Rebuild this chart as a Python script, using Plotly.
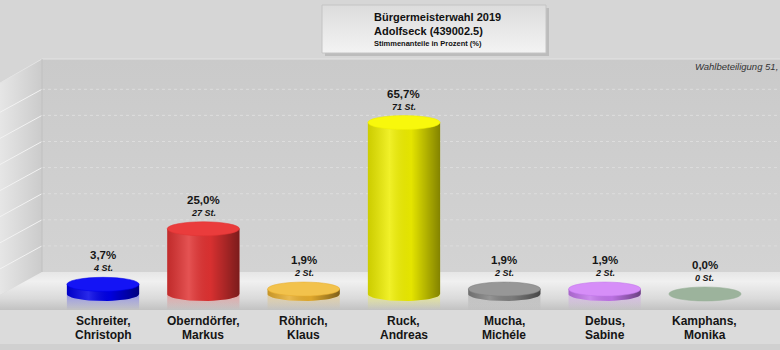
import math
import plotly.graph_objects as go

# ---------------- data ----------------
names_line1 = ["Schreiter,", "Oberndörfer,", "Röhrich,", "Ruck,", "Mucha,", "Debus,", "Kamphans,"]
names_line2 = ["Christoph", "Markus", "Klaus", "Andreas", "Michéle", "Sabine", "Monika"]
percent = [3.7, 25.0, 1.9, 65.7, 1.9, 1.9, 0.0]
votes = [4, 27, 2, 71, 2, 2, 0]
body_colors = ["#0000e6", "#e03232", "#e6ad2e", "#eeee00", "#808080", "#c275ea", "#98b098"]
top_colors = ["#1414f5", "#ea3c3c", "#f2c24c", "#f8f80c", "#979797", "#d68ef8", "#9cb39c"]
grid_values = [10, 20, 30, 40, 50, 60, 70]
title_lines = ["Bürgermeisterwahl 2019", "Adolfseck (439002.5)", "Stimmenanteile in Prozent (%)"]
turnout_text = "Wahlbeteiligung 51,"

# ---------------- geometry (pixels) ----------------
W, H = 780, 350
PX = 2.61            # pixels per percent
FLOOR_Y = 294        # pixel row of value 0 for the bars
CENTER0, STEP = 103, 100.33
HALF = 0.36          # half bar width in category units
ELL = 7              # ellipse half height in px
WALL_L, WALL_T, WALL_B, FRONT = 42, 59, 272, 310
SIDE_DROP = 23

FONT = "Liberation Sans, Arial, sans-serif"

def rgba(hexc, a):
    h = hexc.lstrip("#")
    return "rgba(%d,%d,%d,%.3f)" % (int(h[0:2], 16), int(h[2:4], 16), int(h[4:6], 16), a)

def wall_px(v):
    return WALL_B - v * PX

fig = go.Figure()

def decor(xs, ys, **kw):
    fig.add_trace(go.Scatter(x=xs, y=ys, xaxis="x", yaxis="y", mode="lines",
                             hoverinfo="skip", showlegend=False, **kw))

# back wall
decor([WALL_L, W, W, WALL_L, WALL_L], [WALL_T, WALL_T, WALL_B, WALL_B, WALL_T],
      fill="toself", line=dict(width=0),
      fillgradient=dict(type="vertical", colorscale=[[0, "#d3d3d3"], [1, "#cacaca"]]))
# side wall
decor([0, WALL_L, WALL_L, 0, 0], [WALL_T + SIDE_DROP + 1, WALL_T, WALL_B, WALL_B + SIDE_DROP, WALL_T + SIDE_DROP + 1],
      fill="toself", line=dict(width=0),
      fillgradient=dict(type="horizontal", colorscale=[[0, "#e6e6e6"], [1, "#cbcbcb"]]))
# floor
decor([0, WALL_L, W, W, 0, 0], [WALL_B + SIDE_DROP, WALL_B, WALL_B, FRONT, FRONT, WALL_B + SIDE_DROP],
      fill="toself", line=dict(width=0),
      fillgradient=dict(type="vertical",
                        colorscale=[[0, "#c2c2c2"], [0.3, "#dadada"], [0.75, "#f0f0f0"], [1, "#e6e6e6"]]))
# bottom band
decor([0, W, W, 0, 0], [FRONT, FRONT, 344, 344, FRONT], fill="toself", line=dict(width=0), fillcolor="#dbdbdb")
decor([0, W, W, 0, 0], [344, 344, H, H, 344], fill="toself", line=dict(width=0), fillcolor="#d0d0d0")

# wall grid lines
gx, gy, sx, sy = [], [], [], []
for v in grid_values:
    gx += [WALL_L, W, None]
    gy += [wall_px(v), wall_px(v), None]
    sx += [0, WALL_L, None]
    sy += [wall_px(v) + SIDE_DROP, wall_px(v), None]
decor(gx, gy, line=dict(color="#dddddd", width=1, dash="dot"))
decor(sx, sy, line=dict(color="#f2f2f2", width=1))
decor([0, WALL_L, W], [WALL_T + SIDE_DROP + 1, WALL_T, WALL_T], line=dict(color="#e4e4e4", width=1))
decor([WALL_L, WALL_L], [WALL_T, WALL_B], line=dict(color="#c0c0c0", width=1))

# title box
decor([325, 549, 549, 325, 325], [8, 8, 56, 56, 8], fill="toself", line=dict(width=0), fillcolor="#bcbcbc")
decor([322, 546, 546, 322, 322], [5, 5, 53, 53, 5], fill="toself", line=dict(color="#c4c4c4", width=1),
      fillgradient=dict(type="vertical", colorscale=[[0, "#f3f3f3"], [1, "#dcdcdc"]]))

# ---------------- data marks ----------------
n = len(percent)
idx = list(range(n))
fig.add_trace(go.Bar(x=idx, y=percent, width=2 * HALF, xaxis="x2", yaxis="y2",
                     marker=dict(color=body_colors, line=dict(width=0)),
                     hoverinfo="skip", showlegend=False))

e = ELL / PX
ts = [math.pi * k / 24 for k in range(25)]
for i, (v, c) in enumerate(zip(percent, body_colors)):
    if v <= 0:
        continue
    # reflection on the floor
    r = 16 / PX
    fig.add_trace(go.Scatter(x=[i - HALF, i + HALF, i + HALF, i - HALF, i - HALF], y=[0, 0, -r, -r, 0],
                             xaxis="x2", yaxis="y2", mode="lines", line=dict(width=0), fill="toself",
                             fillgradient=dict(type="vertical", colorscale=[[0, rgba(c, 0.0)], [1, rgba(c, 0.35)]]),
                             hoverinfo="skip", showlegend=False))
    # bottom half ellipse
    bx = [i + HALF * math.cos(t) for t in ts]
    by = [-e * math.sin(t) for t in ts]
    fig.add_trace(go.Scatter(x=bx + [bx[0]], y=by + [by[0]], xaxis="x2", yaxis="y2", mode="lines",
                             line=dict(width=0), fill="toself", fillcolor=c,
                             hoverinfo="skip", showlegend=False))
    # cylinder shading
    sx_ = [i - HALF, i + HALF] + bx + [i - HALF]
    sy_ = [v, v] + by + [v]
    fig.add_trace(go.Scatter(x=sx_, y=sy_, xaxis="x2", yaxis="y2", mode="lines", line=dict(width=0),
                             fill="toself",
                             fillgradient=dict(type="horizontal", colorscale=[
                                 [0, "rgba(0,0,0,0.14)"], [0.3, "rgba(255,255,255,0.16)"],
                                 [0.6, "rgba(0,0,0,0.04)"], [1, "rgba(0,0,0,0.45)"]]),
                             hoverinfo="skip", showlegend=False))

shapes = []
for i, (v, tc, c) in enumerate(zip(percent, top_colors, body_colors)):
    shapes.append(dict(type="circle", xref="x2", yref="y2", x0=i - HALF, x1=i + HALF,
                       ysizemode="pixel", yanchor=v, y0=-ELL, y1=ELL,
                       fillcolor=tc, line=dict(color=rgba(c, 0.9), width=0.6), layer="above"))

annotations = []
for i, (v, n_votes) in enumerate(zip(percent, votes)):
    pct = ("%.1f" % v).replace(".", ",") + "%"
    annotations.append(dict(x=i, y=v, xref="x2", yref="y2", yshift=29, showarrow=False,
                            text="<b>%s</b>" % pct, font=dict(family=FONT, size=11.5, color="#151515")))
    annotations.append(dict(x=i, y=v, xref="x2", yref="y2", yshift=16, showarrow=False,
                            text="<b><i>%d St.</i></b>" % n_votes, font=dict(family=FONT, size=9, color="#151515")))
for i, (l1, l2) in enumerate(zip(names_line1, names_line2)):
    annotations.append(dict(x=i, y=1 - 321 / H, xref="x2", yref="paper", showarrow=False, yanchor="middle",
                            text="<b>%s</b>" % l1, font=dict(family=FONT, size=12, color="#151515")))
    annotations.append(dict(x=i, y=1 - 334.5 / H, xref="x2", yref="paper", showarrow=False, yanchor="middle",
                            text="<b>%s</b>" % l2, font=dict(family=FONT, size=12, color="#151515")))

for txt, yy, sz in zip(title_lines, [17, 31, 43.5], [11, 11, 7.5]):
    annotations.append(dict(x=372 / W, y=1 - yy / H, xref="paper", yref="paper", xanchor="left",
                            yanchor="middle", showarrow=False, text="<b>%s</b>" % txt,
                            font=dict(family=FONT, size=sz, color="#111111")))
annotations.append(dict(x=1, y=1 - 66 / H, xref="paper", yref="paper", xanchor="right", yanchor="middle",
                        showarrow=False, text="<i>%s</i>" % turnout_text,
                        font=dict(family=FONT, size=9.5, color="#333333")))

x2min = -CENTER0 / STEP
x2max = (W - CENTER0) / STEP
y2min = -(H - FLOOR_Y) / PX
y2max = FLOOR_Y / PX

fig.update_layout(
    width=W, height=H, margin=dict(l=0, r=0, t=0, b=0, pad=0),
    paper_bgcolor="#d6d6d6", plot_bgcolor="rgba(0,0,0,0)", showlegend=False,
    xaxis=dict(range=[0, W], domain=[0, 1], visible=False, fixedrange=True),
    yaxis=dict(range=[H, 0], domain=[0, 1], visible=False, fixedrange=True),
    xaxis2=dict(range=[x2min, x2max], overlaying="x", anchor="y2", visible=False, fixedrange=True),
    yaxis2=dict(range=[y2min, y2max], overlaying="y", anchor="x2", visible=False, fixedrange=True),
    shapes=shapes, annotations=annotations,
)

fig.write_html("out.html", config={"displayModeBar": False})
